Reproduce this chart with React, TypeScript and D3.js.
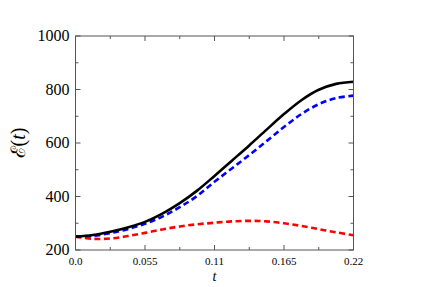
import * as d3 from "d3";

const times = [0, 0.01375, 0.0275, 0.04125, 0.055, 0.06875, 0.0825, 0.09625, 0.11, 0.12375, 0.1375, 0.15125, 0.165, 0.17875, 0.1925, 0.20625, 0.22];
const blackVals = [250, 256, 268, 284, 305, 336, 375, 422, 477, 534, 591, 650, 708, 760, 799, 821, 829];
const blueVals = [250, 253, 263, 278, 298, 325, 360, 402, 455, 505, 555, 607, 660, 708, 745, 768, 777];
const redVals = [250, 242, 243, 252, 264, 277, 288, 296, 302, 307, 309, 307, 300, 290, 278, 266, 255];

const xTicks = [0, 0.055, 0.11, 0.165, 0.22];
const xTickLabels = ["0.0", "0.055", "0.11", "0.165", "0.22"];
const xMinor = [0.0275, 0.0825, 0.1375, 0.1925];
const yTicks = [200, 400, 600, 800, 1000];
const yMinor = [300, 500, 700, 900];

const W = 429;
const H = 287;
const left = 75.5;
const right = 353.5;
const top = 36;
const bottom = 250;

const serif = "Liberation Serif";

export default function App() {
  const x = d3.scaleLinear().domain([0, 0.22]).range([left, right]);
  const y = d3.scaleLinear().domain([200, 1000]).range([bottom, top]);

  const line = (vals: number[]) =>
    d3
      .line<number>()
      .x((_, i) => x(times[i]))
      .y((d) => y(d))
      .curve(d3.curveCatmullRom.alpha(0.5))(vals) || "";

  const series = [
    { vals: redVals, color: "#ff0000", dash: "6,3.5" },
    { vals: blueVals, color: "#0000ff", dash: "6,3.5" },
    { vals: blackVals, color: "#000000", dash: "none" },
  ];

  const axisColor = "#555";

  return (
    <div style={{ position: "absolute", left: 0, top: 0 }}>
      <svg width={W} height={H} style={{ display: "block", background: "#fff" }}>
        <defs>
          <clipPath id="plot">
            <rect x={left} y={top} width={right - left} height={bottom - top} />
          </clipPath>
        </defs>

        {/* curves */}
        <g clipPath="url(#plot)">
          {series.map((s, i) => (
            <path
              key={i}
              d={line(s.vals)}
              fill="none"
              stroke={s.color}
              strokeWidth={2.6}
              strokeDasharray={s.dash}
            />
          ))}
        </g>

        {/* ticks, inside on all four sides */}
        <g stroke={axisColor} strokeWidth={1}>
          {xTicks.map((t) => (
            <g key={"xt" + t}>
              <line x1={x(t)} x2={x(t)} y1={bottom} y2={bottom - 5} />
              <line x1={x(t)} x2={x(t)} y1={top} y2={top + 5} />
            </g>
          ))}
          {xMinor.map((t) => (
            <g key={"xm" + t}>
              <line x1={x(t)} x2={x(t)} y1={bottom} y2={bottom - 3} />
              <line x1={x(t)} x2={x(t)} y1={top} y2={top + 3} />
            </g>
          ))}
          {yTicks.map((v) => (
            <g key={"yt" + v}>
              <line x1={left} x2={left + 5} y1={y(v)} y2={y(v)} />
              <line x1={right} x2={right - 5} y1={y(v)} y2={y(v)} />
            </g>
          ))}
          {yMinor.map((v) => (
            <g key={"ym" + v}>
              <line x1={left} x2={left + 3} y1={y(v)} y2={y(v)} />
              <line x1={right} x2={right - 3} y1={y(v)} y2={y(v)} />
            </g>
          ))}
        </g>

        <rect
          x={left}
          y={top}
          width={right - left}
          height={bottom - top}
          fill="none"
          stroke={axisColor}
          strokeWidth={1}
        />

        {/* tick labels */}
        {yTicks.map((v) => (
          <text
            key={"yl" + v}
            x={left - 6}
            y={y(v) + 5}
            textAnchor="end"
            style={{ fontFamily: serif, fontSize: 16 }}
          >
            {v}
          </text>
        ))}
        {xTicks.map((t, i) => (
          <text
            key={"xl" + t}
            x={x(t)}
            y={bottom + 15}
            textAnchor="middle"
            style={{ fontFamily: serif, fontSize: 11 }}
          >
            {xTickLabels[i]}
          </text>
        ))}
        <text
          x={(left + right) / 2}
          y={bottom + 31}
          textAnchor="middle"
          style={{ fontFamily: serif, fontSize: 14, fontStyle: "italic" }}
        >
          t
        </text>
        <text
          transform={`translate(25,${(top + bottom) / 2}) rotate(-90)`}
          textAnchor="middle"
          style={{ fontFamily: serif, fontSize: 20 }}
        >
          ℰ(<tspan style={{ fontStyle: "italic" }}>t</tspan>)
        </text>
      </svg>
    </div>
  );
}
